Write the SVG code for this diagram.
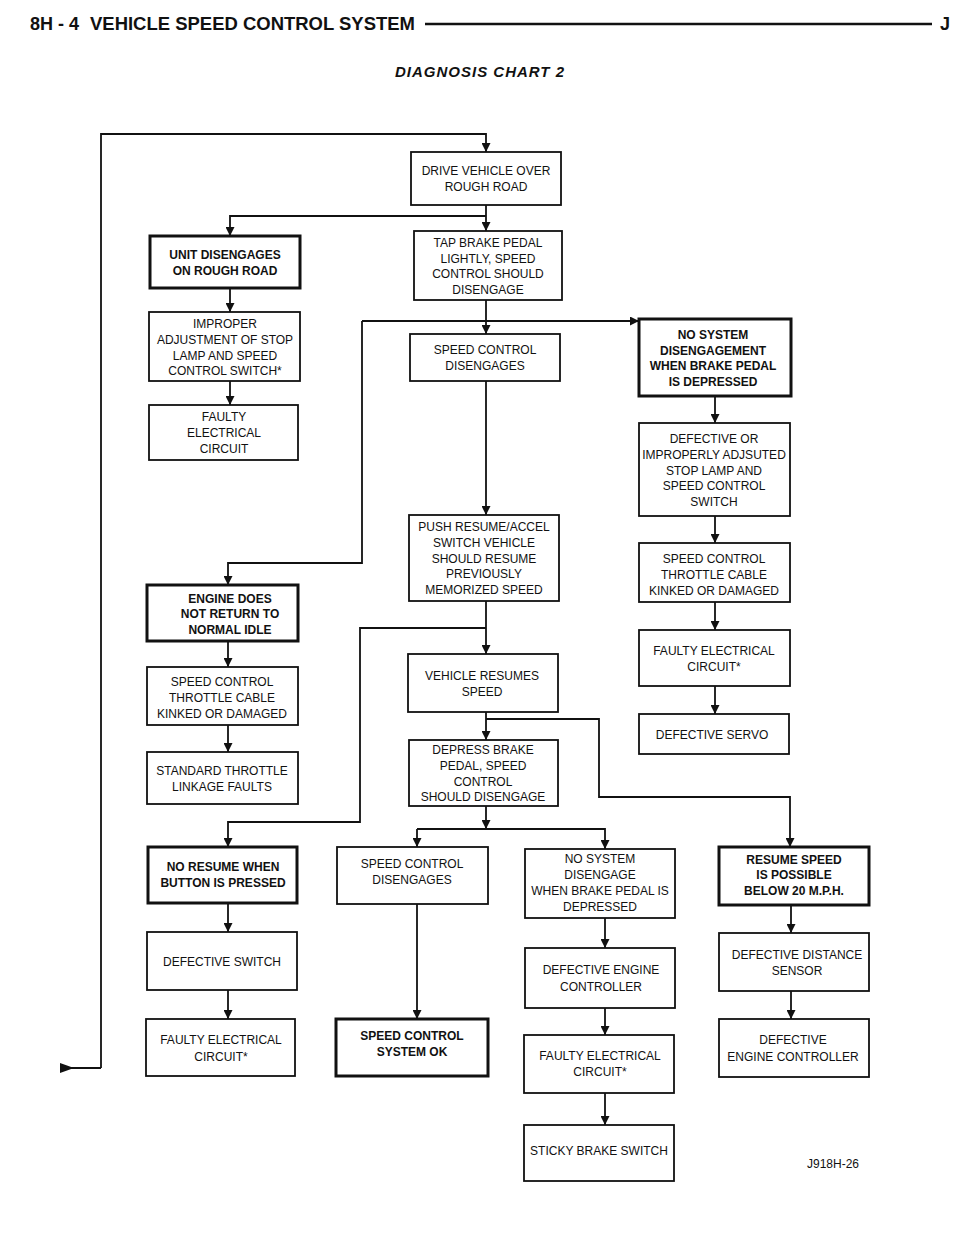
<svg xmlns="http://www.w3.org/2000/svg" width="960" height="1242" viewBox="0 0 960 1242">
<defs>
<marker id="ah" viewBox="0 0 10 10" refX="10" refY="5" markerWidth="13" markerHeight="9" markerUnits="userSpaceOnUse" orient="auto"><path d="M0,0 L10,5 L0,10 z" fill="#111"/></marker>
</defs>
<style>
.b rect{fill:#fff;stroke:#111;stroke-width:1.8}
.k rect{stroke-width:3}
text{font-family:"Liberation Sans Narrow","Liberation Sans",Arial,sans-serif;font-size:12px;fill:#111;text-anchor:middle}
.k text{font-weight:bold}
.c path{fill:none;stroke:#111;stroke-width:1.8}
.c path.t{fill:#111;stroke:none}
.a{marker-end:url(#ah)}
.h{font-family:"Liberation Sans Narrow","Liberation Sans",sans-serif;font-weight:bold;font-size:18px;text-anchor:start}
</style>
<rect width="960" height="1242" fill="#fff"/>
<text class="h" x="30" y="30">8H - 4</text>
<text class="h" x="90" y="30" textLength="325" lengthAdjust="spacingAndGlyphs">VEHICLE SPEED CONTROL SYSTEM</text>
<line x1="425" y1="24" x2="932" y2="24" stroke="#111" stroke-width="2.5"/>
<text class="h" x="940" y="30">J</text>
<text x="480" y="77" style="font-family:'Liberation Sans',sans-serif;font-weight:bold;font-style:italic;font-size:15px;letter-spacing:1px">DIAGNOSIS CHART 2</text>

<g class="c">
<path class="a" d="M101,1068 V134 H486 V152"/>
<path d="M101,1068 H64"/>
<path class="t" d="M60,1063 L74,1068 L60,1073 z"/>
<path class="a" d="M486,205 V231"/>
<path class="a" d="M486,216 H230 V236"/>
<path class="a" d="M230,288 V312"/>
<path class="a" d="M230,381 V405"/>
<path class="a" d="M486,300 V334"/>
<path class="a" d="M362,321 H639"/>
<path class="a" d="M362,321 V563 H228 V585"/>
<path class="a" d="M486,381 V515"/>
<path class="a" d="M715,396 V423"/>
<path class="a" d="M715,516 V543"/>
<path class="a" d="M715,602 V630"/>
<path class="a" d="M715,686 V714"/>
<path class="a" d="M486,601 V654"/>
<path class="a" d="M486,628 H360 V822 H228 V847"/>
<path class="a" d="M228,641 V667"/>
<path class="a" d="M228,725 V752"/>
<path class="a" d="M486,712 V740"/>
<path class="a" d="M486,719 H599 V797 H790 V847"/>
<path class="a" d="M486,806 V829"/>
<path class="a" d="M417,829 V847"/>
<path class="a" d="M417,829 H605 V849"/>
<path class="a" d="M228,903 V932"/>
<path class="a" d="M228,990 V1019"/>
<path class="a" d="M417,904 V1019"/>
<path class="a" d="M605,918 V948"/>
<path class="a" d="M605,1008 V1035"/>
<path class="a" d="M605,1093 V1125"/>
<path class="a" d="M791,905 V933"/>
<path class="a" d="M791,991 V1019"/>
</g>

<g id="n1" class="b"><rect x="411" y="152" width="150" height="53"/><text x="486" y="175">DRIVE VEHICLE OVER</text><text x="486" y="191">ROUGH ROAD</text></g>
<g id="n2" class="b"><rect x="414" y="231" width="148" height="69"/><text x="488" y="247">TAP BRAKE PEDAL</text><text x="488" y="263">LIGHTLY, SPEED</text><text x="488" y="278">CONTROL SHOULD</text><text x="488" y="294">DISENGAGE</text></g>
<g id="n3" class="b k"><rect x="150" y="236" width="150" height="52"/><text x="225" y="259">UNIT DISENGAGES</text><text x="225" y="275">ON ROUGH ROAD</text></g>
<g id="n4" class="b"><rect x="149" y="312" width="151" height="69"/><text x="225" y="328">IMPROPER</text><text x="225" y="344">ADJUSTMENT OF STOP</text><text x="225" y="360">LAMP AND SPEED</text><text x="225" y="375">CONTROL SWITCH*</text></g>
<g id="n5" class="b"><rect x="149" y="405" width="149" height="55"/><text x="224" y="421">FAULTY</text><text x="224" y="437">ELECTRICAL</text><text x="224" y="453">CIRCUIT</text></g>
<g id="n6" class="b"><rect x="410" y="334" width="150" height="47"/><text x="485" y="354">SPEED CONTROL</text><text x="485" y="370">DISENGAGES</text></g>
<g id="n7" class="b k"><rect x="639" y="319" width="152" height="77"/><text x="713" y="339">NO SYSTEM</text><text x="713" y="355">DISENGAGEMENT</text><text x="713" y="370">WHEN BRAKE PEDAL</text><text x="713" y="386">IS DEPRESSED</text></g>
<g id="n8" class="b"><rect x="639" y="423" width="151" height="93"/><text x="714" y="443">DEFECTIVE OR</text><text x="714" y="459">IMPROPERLY ADJSUTED</text><text x="714" y="475">STOP LAMP AND</text><text x="714" y="490">SPEED CONTROL</text><text x="714" y="506">SWITCH</text></g>
<g id="n9" class="b"><rect x="639" y="543" width="151" height="59"/><text x="714" y="563">SPEED CONTROL</text><text x="714" y="579">THROTTLE CABLE</text><text x="714" y="595">KINKED OR DAMAGED</text></g>
<g id="n10" class="b"><rect x="639" y="630" width="151" height="56"/><text x="714" y="655">FAULTY ELECTRICAL</text><text x="714" y="671">CIRCUIT*</text></g>
<g id="n11" class="b"><rect x="639" y="714" width="150" height="40"/><text x="712" y="739">DEFECTIVE SERVO</text></g>
<g id="n12" class="b"><rect x="409" y="515" width="150" height="86"/><text x="484" y="531">PUSH RESUME/ACCEL</text><text x="484" y="547">SWITCH VEHICLE</text><text x="484" y="563">SHOULD RESUME</text><text x="484" y="578">PREVIOUSLY</text><text x="484" y="594">MEMORIZED SPEED</text></g>
<g id="n13" class="b k"><rect x="147" y="585" width="151" height="56"/><text x="230" y="603">ENGINE DOES</text><text x="230" y="618">NOT RETURN TO</text><text x="230" y="634">NORMAL IDLE</text></g>
<g id="n14" class="b"><rect x="147" y="667" width="151" height="58"/><text x="222" y="686">SPEED CONTROL</text><text x="222" y="702">THROTTLE CABLE</text><text x="222" y="718">KINKED OR DAMAGED</text></g>
<g id="n15" class="b"><rect x="147" y="752" width="151" height="52"/><text x="222" y="775">STANDARD THROTTLE</text><text x="222" y="791">LINKAGE FAULTS</text></g>
<g id="n16" class="b"><rect x="408" y="654" width="150" height="58"/><text x="482" y="680">VEHICLE RESUMES</text><text x="482" y="696">SPEED</text></g>
<g id="n17" class="b"><rect x="409" y="740" width="149" height="66"/><text x="483" y="754">DEPRESS BRAKE</text><text x="483" y="770">PEDAL, SPEED</text><text x="483" y="786">CONTROL</text><text x="483" y="801">SHOULD DISENGAGE</text></g>
<g id="n18" class="b k"><rect x="148" y="847" width="149" height="56"/><text x="223" y="871">NO RESUME WHEN</text><text x="223" y="887">BUTTON IS PRESSED</text></g>
<g id="n19" class="b"><rect x="337" y="847" width="151" height="57"/><text x="412" y="868">SPEED CONTROL</text><text x="412" y="884">DISENGAGES</text></g>
<g id="n20" class="b"><rect x="525" y="849" width="150" height="69"/><text x="600" y="863">NO SYSTEM</text><text x="600" y="879">DISENGAGE</text><text x="600" y="895">WHEN BRAKE PEDAL IS</text><text x="600" y="911">DEPRESSED</text></g>
<g id="n21" class="b k"><rect x="719" y="847" width="150" height="58"/><text x="794" y="864">RESUME SPEED</text><text x="794" y="879">IS POSSIBLE</text><text x="794" y="895">BELOW 20 M.P.H.</text></g>
<g id="n22" class="b"><rect x="147" y="932" width="150" height="58"/><text x="222" y="966">DEFECTIVE SWITCH</text></g>
<g id="n23" class="b"><rect x="525" y="948" width="150" height="60"/><text x="601" y="974">DEFECTIVE ENGINE</text><text x="601" y="991">CONTROLLER</text></g>
<g id="n24" class="b"><rect x="719" y="933" width="150" height="58"/><text x="797" y="959">DEFECTIVE DISTANCE</text><text x="797" y="975">SENSOR</text></g>
<g id="n25" class="b"><rect x="146" y="1019" width="149" height="57"/><text x="221" y="1044">FAULTY ELECTRICAL</text><text x="221" y="1061">CIRCUIT*</text></g>
<g id="n26" class="b k"><rect x="336" y="1019" width="152" height="57"/><text x="412" y="1040">SPEED CONTROL</text><text x="412" y="1056">SYSTEM OK</text></g>
<g id="n27" class="b"><rect x="524" y="1035" width="150" height="58"/><text x="600" y="1060">FAULTY ELECTRICAL</text><text x="600" y="1076">CIRCUIT*</text></g>
<g id="n28" class="b"><rect x="719" y="1019" width="150" height="58"/><text x="793" y="1044">DEFECTIVE</text><text x="793" y="1061">ENGINE CONTROLLER</text></g>
<g id="n29" class="b"><rect x="524" y="1125" width="150" height="56"/><text x="599" y="1155">STICKY BRAKE SWITCH</text></g>
<text x="833" y="1168">J918H-26</text>
</svg>
